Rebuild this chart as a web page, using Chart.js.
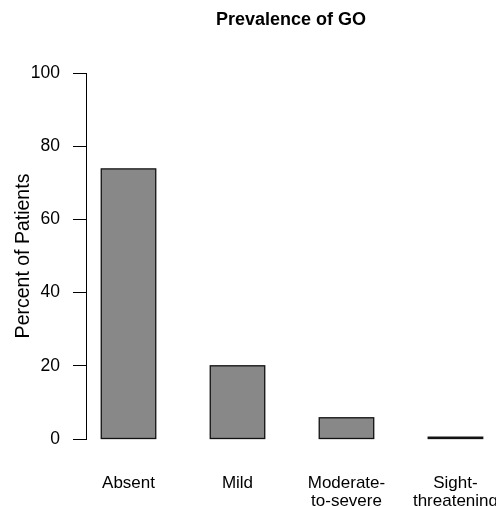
<!DOCTYPE html>
<html>
<head>
<meta charset="utf-8">
<script src="https://cdn.jsdelivr.net/npm/chart.js@4"></script>
<style>
  html, body { margin: 0; padding: 0; background: #fff; }
  #wrap { width: 496px; height: 506px; }
</style>
</head>
<body>
<div id="wrap"><canvas id="goChart"></canvas></div>
<script>
// Data
const categories = [['Absent'], ['Mild'], ['Moderate-', 'to-severe'], ['Sight-', 'threatening']];
const percents = [73.8, 20.0, 5.8, 0.5];
const yTicks = [0, 20, 40, 60, 80, 100];

const FONT = 'Liberation Sans, Arial, Helvetica, sans-serif';

// title centred over the plot area, like R does
const plotTitle = {
  id: 'plotTitle',
  afterDraw(chart) {
    const { ctx, chartArea } = chart;
    ctx.save();
    ctx.font = 'bold 18px ' + FONT;
    ctx.fillStyle = '#000';
    ctx.textAlign = 'center';
    ctx.textBaseline = 'middle';
    ctx.fillText('Prevalence of GO', (chartArea.left + chartArea.right) / 2, 20);
    ctx.restore();
  }
};

// R-style outline: stroke centred on the bar edges, so even a tiny bar shows as a dark line
const barOutline = {
  id: 'barOutline',
  afterDatasetsDraw(chart) {
    const { ctx } = chart;
    ctx.save();
    ctx.strokeStyle = '#111';
    ctx.lineWidth = 1.3;
    chart.getDatasetMeta(0).data.forEach(bar => {
      const { x, y, base, width } = bar.getProps(['x', 'y', 'base', 'width'], true);
      ctx.strokeRect(x - width / 2, y, width, base - y);
    });
    ctx.restore();
  }
};

const ctx = document.getElementById('goChart').getContext('2d');
new Chart(ctx, {
  type: 'bar',
  data: {
    datasets: [{
      data: percents.map((p, i) => ({ x: i + 1, y: p })),
      backgroundColor: '#888888',
      borderWidth: 0,
      inflateAmount: 0,
      barPercentage: 0.5,
      categoryPercentage: 1,
    }],
  },
  options: {
    responsive: true,
    maintainAspectRatio: false,
    animation: false,
    layout: { padding: { top: 73, left: 0, right: 0, bottom: 0 } },
    plugins: {
      legend: { display: false },
      tooltip: { enabled: false },
    },
    scales: {
      x: {
        type: 'linear',
        offset: false,
        min: 0.61,
        max: 4.372,
        border: { display: false },
        grid: { display: true, drawOnChartArea: false, drawTicks: true, tickLength: 35, color: 'transparent' },
        afterBuildTicks: (scale) => {
          scale.ticks = categories.map((c, i) => ({ value: i + 1 }));
        },
        afterFit: (scale) => {
          scale.height = 67;
          scale.paddingLeft = 0;
          scale.paddingRight = 0;
        },
        ticks: {
          padding: 0,
          color: '#000',
          maxRotation: 0,
          autoSkip: false,
          font: { family: FONT, size: 17, lineHeight: 1.08 },
          callback: (value) => categories[value - 1],
        },
      },
      y: {
        min: 0,
        max: 100,
        border: { display: true, color: '#000', width: 1 },
        grid: { drawOnChartArea: false, drawTicks: true, tickLength: 13, color: '#000' },
        afterBuildTicks: (scale) => {
          scale.ticks = yTicks.map(v => ({ value: v }));
        },
        afterFit: (scale) => {
          scale.width = 86;
        },
        ticks: {
          padding: 13,
          color: '#000',
          font: { family: FONT, size: 17.5 },
        },
        title: {
          display: true,
          text: 'Percent of Patients',
          color: '#000',
          padding: { top: 12, bottom: 0 },
          font: { family: FONT, size: 19.5 },
        },
      },
    },
  },
  plugins: [plotTitle, barOutline],
});
</script>
</body>
</html>
